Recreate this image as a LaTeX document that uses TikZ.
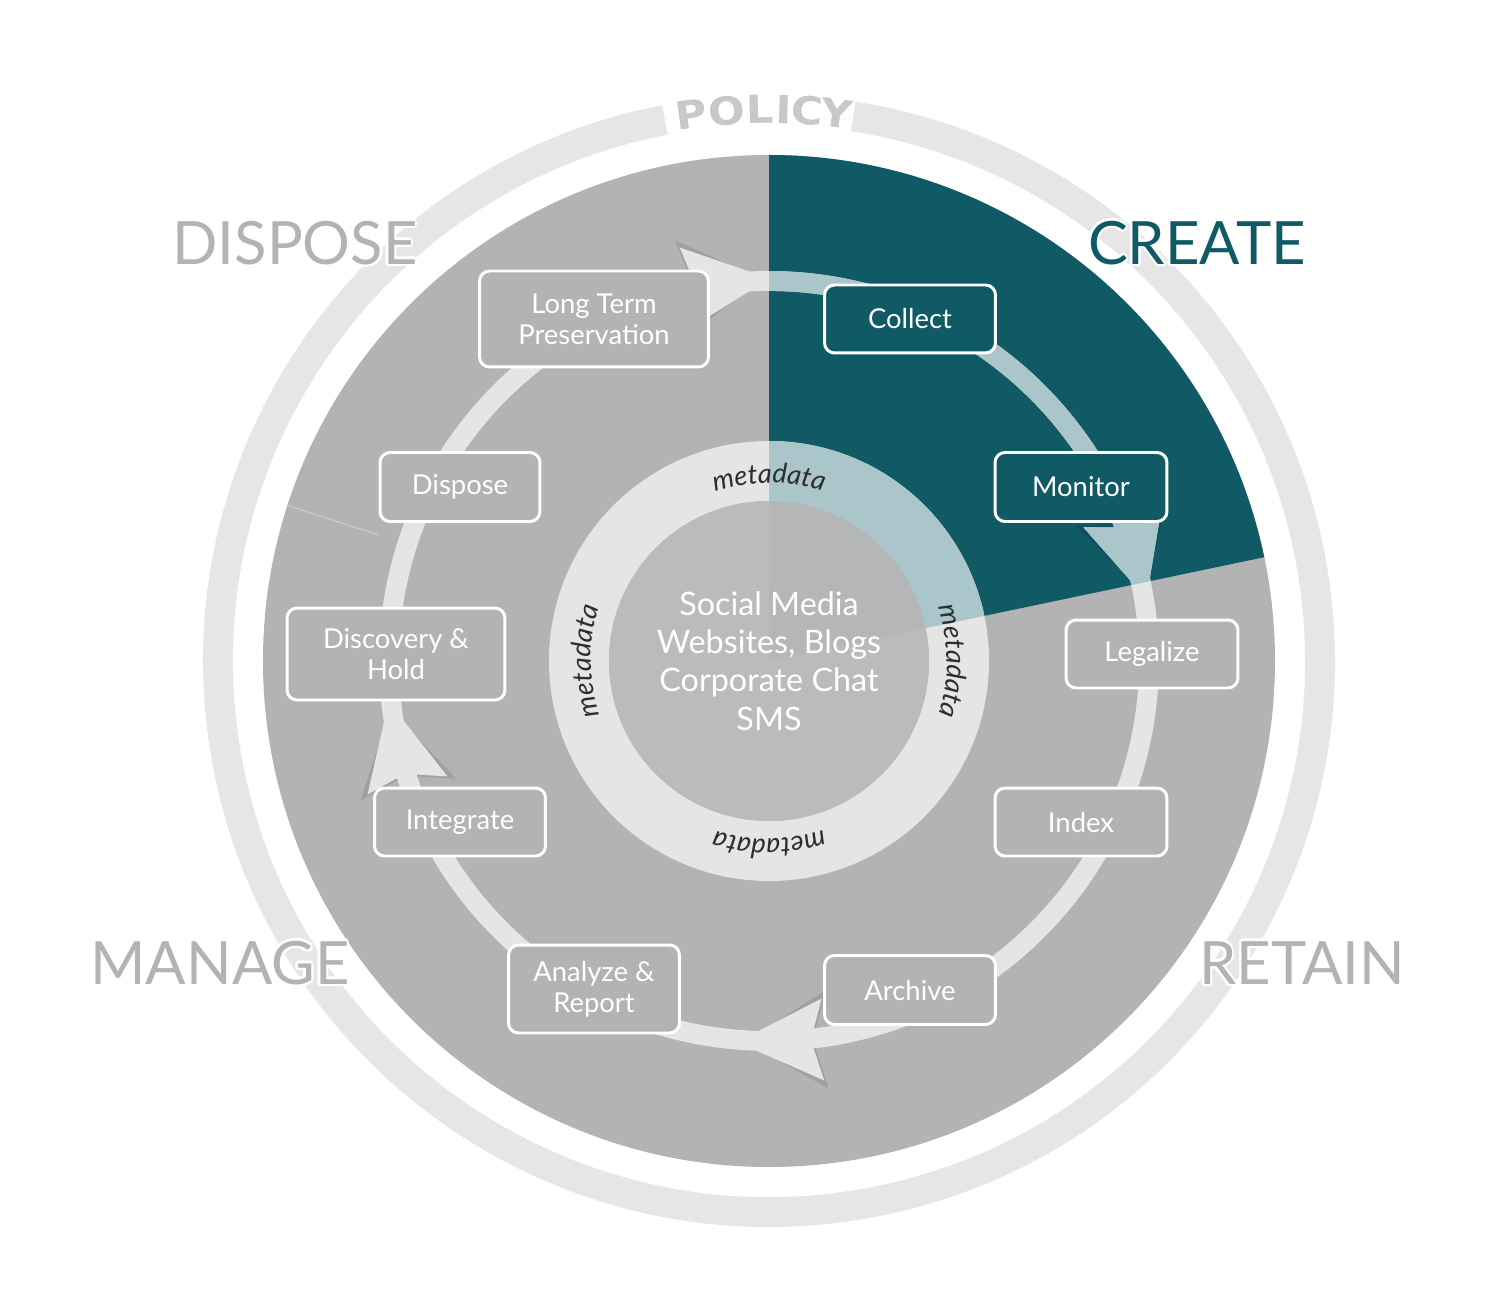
\documentclass[tikz,border=0pt]{standalone}
\usepackage{fontspec}
\setmainfont{Lato}
\newfontfamily\policyfont{DejaVu Sans}[FakeStretch=1.12]
\usepackage{tikz}
\usetikzlibrary{decorations.text}
\definecolor{bggray}{RGB}{179,179,179}
\definecolor{ringgray}{RGB}{229,229,229}
\definecolor{policygray}{RGB}{230,230,230}
\definecolor{policytext}{RGB}{200,200,200}
\definecolor{tealdark}{RGB}{15,90,100}
\definecolor{tealring}{RGB}{171,198,203}
\definecolor{innergray}{RGB}{187,187,187}
\definecolor{innerteal}{RGB}{180,182,183}
\definecolor{metatext}{RGB}{45,45,45}
\tikzset{
    stepnode/.style={draw=white,line width=1.7pt,rounded corners=0.2cm,fill=bggray,text=white,align=center,inner sep=0pt,font=\fontsize{15.6}{17.8}\selectfont},
    tealnode/.style={stepnode,fill=tealdark},
    phase/.style={inner sep=0pt,font=\fontsize{34}{40}\selectfont},
    policyletter/.style={inner sep=0pt,text=policytext,font=\policyfont\bfseries\fontsize{22}{24}\selectfont},
    centertext/.style={align=center,text=white,font=\fontsize{18.4}{21.8}\selectfont},
    metalabel/.style={decorate,decoration={text along path,text align=center,text={|\fontsize{15.5}{17}\selectfont\itshape\color{metatext}|metadata}}},
    arrowshadow/.style={fill=black,opacity=0.1}
}
\newcommand{\cyclering}[1]{%
    \draw[draw=#1,line width=11.3pt] (0,0) circle[radius=380];
    \foreach \ang in {96.5,16,271.8,192.7}
        \fill[fill=#1,shift={(\ang:380)},rotate=\ang-90] (44,0) -- (-42,41) -- (-30,0) -- (-42,-41) -- cycle;
}

\begin{document}
\begin{tikzpicture}[x=0.02cm,y=0.02cm]

\fill[white] (-769,-637) rectangle (731,661);
\useasboundingbox (-769,-637) rectangle (731,661);

\draw[policygray,line width=17pt] (100.9:551) arc[start angle=100.9,end angle=441.2,radius=551];

\fill[bggray] (0,0) circle[radius=506];
\fill[tealdark] (0,0) -- (11.84:506) arc[start angle=11.84,end angle=90,radius=506] -- cycle;
\draw[white,opacity=0.35,line width=0.6pt] (162.1:411) -- (162.1:505);

\fill[ringgray,even odd rule] (0,0) circle[radius=220] (0,0) circle[radius=160];
\fill[innergray] (0,0) circle[radius=160];
\begin{scope}
    \clip (0,0) -- (11.84:506) arc[start angle=11.84,end angle=90,radius=506] -- cycle;
    \fill[tealring,even odd rule] (0,0) circle[radius=220] (0,0) circle[radius=160];
    \fill[innerteal] (0,0) circle[radius=160];
\end{scope}

\node[centertext] (sources) at (0,0) {Social Media\\Websites, Blogs\\Corporate Chat\\SMS};

\path[metalabel] (110:178) arc[start angle=110,end angle=70,radius=178];
\path[metalabel] (20:178) arc[start angle=20,end angle=-20,radius=178];
\path[metalabel] (290:178) arc[start angle=290,end angle=250,radius=178];
\path[metalabel] (200:178) arc[start angle=200,end angle=160,radius=178];

\foreach \ang in {96.5,16,271.8,192.7}
    \fill[arrowshadow,shift={(\ang:380)},rotate=\ang-90] (36,0) -- (-46,49) -- (-32,0) -- (-46,-49) -- cycle;
\cyclering{ringgray}
\begin{scope}
    \clip (0,0) -- (11.84:506) arc[start angle=11.84,end angle=90,radius=506] -- cycle;
    \cyclering{tealring}
\end{scope}

\node[stepnode,minimum width=4.58cm,minimum height=1.92cm] (preserve) at (-175,342) {Long Term\\Preservation};
\node[tealnode,minimum width=3.42cm,minimum height=1.36cm] (collect) at (141,342) {Collect};
\node[tealnode,minimum width=3.44cm,minimum height=1.38cm] (monitor) at (312,174) {Monitor};
\node[stepnode,minimum width=3.44cm,minimum height=1.36cm] (legalize) at (383,7) {Legalize};
\node[stepnode,minimum width=3.44cm,minimum height=1.36cm] (index) at (312,-161) {Index};
\node[stepnode,minimum width=3.42cm,minimum height=1.38cm] (archive) at (141,-329) {Archive};
\node[stepnode,minimum width=3.42cm,minimum height=1.76cm] (analyze) at (-175,-328) {Analyze \&\\Report};
\node[stepnode,minimum width=3.42cm,minimum height=1.36cm] (integrate) at (-309,-161) {Integrate};
\node[stepnode,minimum width=4.36cm,minimum height=1.84cm] (discovery) at (-373,7) {Discovery \&\\Hold};
\node[stepnode,minimum width=3.2cm,minimum height=1.38cm] (dispose) at (-309,174) {Dispose};

\foreach \ch/\ang in {P/98.1,O/94.4,L/90.9,I/88.5,C/86.0,Y/82.9}
    \node[policyletter,rotate=\ang-90] (policy\ch) at (\ang:552) {\ch};

\foreach \lab/\pos/\col in {CREATE/{(428,418)}/tealdark,DISPOSE/{(-474,418)}/bggray,MANAGE/{(-549,-302)}/bggray,RETAIN/{(533,-302)}/bggray}{
    \foreach \d in {0,45,...,315}
        \node[phase,text=white,shift={(\d:2.5)}] at \pos {\lab};
    \node[phase,text=\col] (\lab) at \pos {\lab};
}

\end{tikzpicture}
\end{document}
